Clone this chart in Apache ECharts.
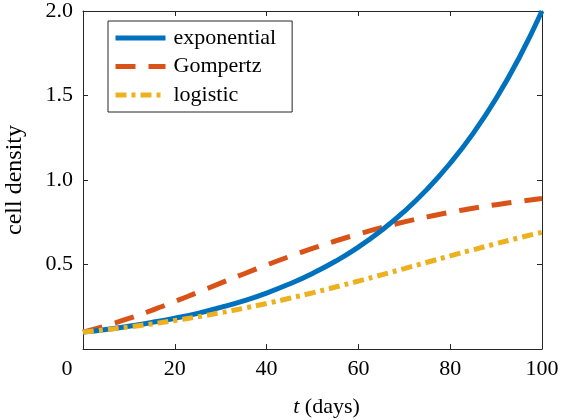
<!DOCTYPE html>
<html>
<head>
<meta charset="utf-8">
<script src="https://cdn.jsdelivr.net/npm/echarts@6/dist/echarts.min.js"></script>
<style>html,body{margin:0;padding:0;background:#fff}#c{width:561px;height:420px}</style>
</head>
<body>
<div id="c"></div>
<script>
const tDays = [0,5,10,15,20,25,30,35,40,45,50,55,60,65,70,75,80,85,90,95,100];
const exponential = [0.1,0.116,0.135,0.157,0.182,0.211,0.246,0.285,0.331,0.385,0.447,0.519,0.603,0.701,0.814,0.946,1.099,1.276,1.482,1.722,2.0];
const gompertz = [0.1,0.1375,0.181,0.229,0.281,0.335,0.390,0.444,0.497,0.5475,0.595,0.639,0.680,0.718,0.752,0.782,0.809,0.833,0.854,0.873,0.890];
const logistic = [0.1,0.1143,0.1304,0.1484,0.1684,0.1904,0.2146,0.2410,0.2695,0.300,0.3325,0.3666,0.4020,0.4385,0.4756,0.5132,0.5506,0.5872,0.6231,0.6578,0.6906];
const seriesNames = ['exponential','Gompertz','logistic'];
const xTicks = [0,20,40,60,80,100];
const yTicks = [0.5,1.0,1.5,2.0];

const FONT = "'Liberation Serif','Times New Roman',serif";
const pair = arr => tDays.map((t,i)=>[t,arr[i]]);
const axLine = () => ({show:true, onZero:false, lineStyle:{color:'#262626', width:1}});
const tickStyle = {show:true, inside:true, length:5, lineStyle:{color:'#262626', width:1}};

const chart = echarts.init(document.getElementById('c'), null, {renderer:'canvas'});
chart.setOption({
  animation:false,
  backgroundColor:'#fff',
  grid:{left:83, right:19, top:11, bottom:71, containLabel:false, outerBoundsMode:'none'},
  legend:{
    orient:'vertical', left:108, top:21,
    padding:[6,16,6,5], itemWidth:50, itemHeight:14, itemGap:6.5,
    borderColor:'#262626', borderWidth:1, backgroundColor:'#fff',
    itemStyle:{opacity:0, borderWidth:0},
    lineStyle:{width:5},
    textStyle:{fontFamily:FONT, fontSize:22, color:'#000', lineHeight:22, padding:[0,0,0,3]},
    data:seriesNames
  },
  xAxis:[
    {type:'value', position:'bottom', min:0, max:100, interval:20,
     name:'{i|t} (days)', nameLocation:'middle', nameGap:47,
     nameTextStyle:{fontFamily:FONT, fontSize:22, color:'#000', padding:[0,0,0,28],
       rich:{i:{fontFamily:FONT, fontSize:22, fontStyle:'italic', color:'#000'}}},
     axisLine:axLine(), axisTick:tickStyle, splitLine:{show:false},
     axisLabel:{margin:9, fontFamily:FONT, fontSize:22, color:'#000',
       formatter:v=> v===0 ? '{z|0}' : String(v),
       rich:{z:{fontFamily:FONT, fontSize:22, color:'#000', padding:[0,32,0,0]}}}},
    {type:'value', position:'top', min:0, max:100, interval:20,
     axisLine:axLine(), axisTick:tickStyle, axisLabel:{show:false}, splitLine:{show:false}}
  ],
  yAxis:[
    {type:'value', position:'left', min:0, max:2, interval:0.5,
     name:'cell density', nameLocation:'middle', nameGap:56, nameRotate:90,
     nameTextStyle:{fontFamily:FONT, fontSize:24, color:'#000'},
     axisLine:axLine(), axisTick:tickStyle, splitLine:{show:false},
     axisLabel:{margin:10, fontFamily:FONT, fontSize:22, color:'#000',
       formatter:v=> yTicks.indexOf(v)>=0 ? v.toFixed(1) : ''}},
    {type:'value', position:'right', min:0, max:2, interval:0.5,
     axisLine:axLine(), axisTick:tickStyle, axisLabel:{show:false}, splitLine:{show:false}}
  ],
  series:[
    {name:seriesNames[0], type:'line', data:pair(exponential), smooth:true, symbol:'none',
     lineStyle:{color:'#0072BD', width:5, type:'solid'}, itemStyle:{color:'#0072BD'}, z:3},
    {name:seriesNames[1], type:'line', data:pair(gompertz), smooth:true, symbol:'none',
     lineStyle:{color:'#D95319', width:5, type:[20,13], cap:'butt'}, itemStyle:{color:'#D95319'}, z:2},
    {name:seriesNames[2], type:'line', data:pair(logistic), smooth:true, symbol:'none',
     lineStyle:{color:'#EDB120', width:5, type:[11,5,4,5], cap:'butt'}, itemStyle:{color:'#EDB120'}, z:4}
  ]
});
</script>
</body>
</html>
